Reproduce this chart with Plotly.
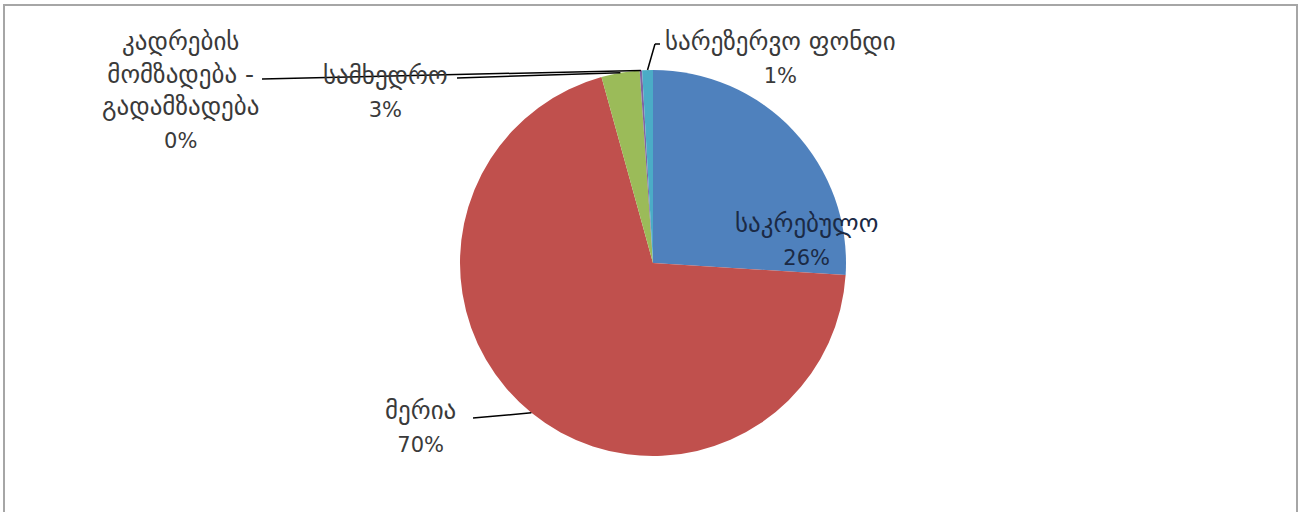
import math
import plotly.graph_objects as go

# ---- data ----
labels = ["საკრებულო", "მერია", "სამხედრო",
          "კადრების<br>მომზადება -<br>გადამზადება", "სარეზერვო ფონდი"]
values = [26.0, 69.7, 3.2, 0.2, 0.9]
colors = ["#4F81BD", "#C0504D", "#9BBB59", "#8064A2", "#4BACC6"]

W, H = 1302, 512
CX, CY, R = 653, 263, 193  # pie layout in page pixels


def px(x, y):
    return x / W, 1 - y / H


fig = go.Figure()
x0d, y1d = px(CX - R, CY - R)
x1d, y0d = px(CX + R, CY + R)
fig.add_trace(go.Pie(
    labels=labels, values=values, sort=False, direction="clockwise", rotation=0,
    marker=dict(colors=colors, line=dict(width=0)),
    textinfo="none", showlegend=False,
    domain=dict(x=[x0d, x1d], y=[y0d, y1d]),
))

total = sum(values)
cum = 0
mids = []
for v in values:
    mids.append((cum + v / 2) / total)
    cum += v


def edge(frac):
    a = 2 * math.pi * frac
    return CX + R * math.sin(a), CY - R * math.cos(a)


# label placements (page pixels): center x, center y, leader start point or None
label_pos = [
    (806, 239, None),
    (420, 426, (473, 418)),
    (385, 91, (457, 78)),
    (180, 90, (262, 79)),
    (780, 57, (660, 44)),
]

shapes = []
annotations = []
pct = [f"{round(v / total * 100):.0f}%" for v in values]
for i, (lx, ly, start) in enumerate(label_pos):
    color = "#1b2a45" if start is None else "#3a3a3a"
    ax_, ay_ = px(lx, ly)
    txt = (f'<span style="font-size:25px">{labels[i]}</span>'
           f'<br><span style="font-size:21px">{pct[i]}</span>')
    annotations.append(dict(
        x=ax_, y=ay_, xref="paper", yref="paper", showarrow=False,
        text=txt, align="center",
        font=dict(family="DejaVu Sans", size=25, color=color),
        xanchor="center", yanchor="middle",
    ))
    if start is not None:
        ex, ey = edge(mids[i])
        pts = [start]
        if i == 4:
            pts.append((655, 44))
        pts.append((ex, ey))
        for (xa, ya), (xb, yb) in zip(pts[:-1], pts[1:]):
            a0, b0 = px(xa, ya)
            a1, b1 = px(xb, yb)
            shapes.append(dict(type="line", xref="paper", yref="paper",
                               x0=a0, y0=b0, x1=a1, y1=b1,
                               line=dict(color="#000000", width=1.5)))

# outer border
bx0, by1 = px(4, 5)
bx1, _ = px(1297, 5)
shapes.append(dict(type="rect", xref="paper", yref="paper",
                   x0=bx0, y0=-0.01, x1=bx1, y1=by1,
                   line=dict(color="#a6a6a6", width=2)))

fig.update_layout(
    width=W, height=H, margin=dict(l=0, r=0, t=0, b=0),
    paper_bgcolor="white", plot_bgcolor="white",
    shapes=shapes, annotations=annotations,
)
fig.write_html("out.html", config={"displayModeBar": False},
               post_script="document.body.style.margin='0';")
